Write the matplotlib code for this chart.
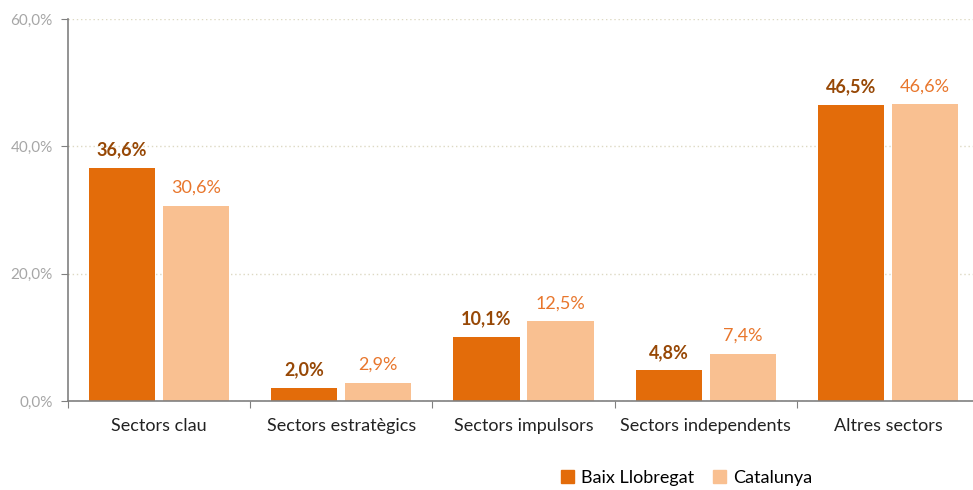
import matplotlib
matplotlib.use("Agg")
import matplotlib.pyplot as plt
import numpy as np
from matplotlib.patches import Patch

categories = ["Sectors clau", "Sectors estratègics", "Sectors impulsors",
              "Sectors independents", "Altres sectors"]
baix = [36.6, 2.0, 10.1, 4.8, 46.5]
catalunya = [30.6, 2.9, 12.5, 7.4, 46.6]
series_names = ["Baix Llobregat", "Catalunya"]

C_BAIX = "#E36C0A"
C_CAT = "#F9C091"
C_BAIX_TXT = "#974806"
C_CAT_TXT = "#E8762C"

plt.rcParams["font.family"] = ["Lato", "DejaVu Sans"]

fig = plt.figure(figsize=(9.73, 4.9), dpi=100)
ax = fig.add_axes([68 / 973, 89 / 490, 911 / 973, 382 / 490])

x = np.arange(len(categories))
w = 0.363
b1 = ax.bar(x - 0.203, baix, w, color=C_BAIX)
b2 = ax.bar(x + 0.203, catalunya, w, color=C_CAT)

def fmt(v):
    return f"{v:.1f}%".replace(".", ",")

for rect, v in zip(b1, baix):
    ax.annotate(fmt(v), (rect.get_x() + rect.get_width() / 2, v),
                xytext=(0, 13), textcoords="offset points", ha="center", va="center",
                fontsize=13, fontweight="bold", color=C_BAIX_TXT)
for rect, v in zip(b2, catalunya):
    ax.annotate(fmt(v), (rect.get_x() + rect.get_width() / 2, v),
                xytext=(0, 13), textcoords="offset points", ha="center", va="center",
                fontsize=13, color=C_CAT_TXT)

ax.set_xlim(-0.5, len(categories) - 0.5)
ax.set_ylim(0, 60)
ax.set_yticks([0, 20, 40, 60])
ax.set_yticklabels([fmt(t) for t in [0, 20, 40, 60]], color="#A6A6A6", fontsize=11)
ax.yaxis.grid(True, linestyle=(0, (1, 2)), color="#DDD9C3", lw=1)
ax.set_axisbelow(True)

# category labels centred, ticks at the boundaries
ax.set_xticks(np.arange(len(categories) + 1) - 0.5)
ax.set_xticklabels([])
ax.set_xticks(x, minor=True)
ax.set_xticklabels(categories, minor=True, fontsize=13, color="#222222")
ax.tick_params(axis="x", which="minor", length=0, pad=12)
ax.tick_params(axis="x", which="major", length=5, color="#808080")
ax.tick_params(axis="y", length=5, color="#808080", pad=6)

for s in ["top", "right"]:
    ax.spines[s].set_visible(False)
for s in ["left", "bottom"]:
    ax.spines[s].set_color("#808080")
    ax.spines[s].set_linewidth(1.2)

handles = [Patch(color=C_BAIX), Patch(color=C_CAT)]
fig.legend(handles, series_names, loc="center left", bbox_to_anchor=(548 / 973, 0.025),
           ncol=2, frameon=False, fontsize=13, handlelength=0.75, handleheight=0.75,
           columnspacing=1.0, handletextpad=0.4, borderpad=0.2)

fig.savefig("out.png", dpi=100)
